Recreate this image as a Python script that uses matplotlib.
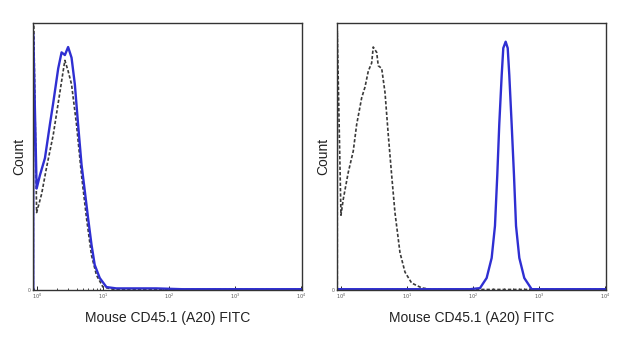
import matplotlib
matplotlib.use("Agg")
import matplotlib.pyplot as plt
import numpy as np
from matplotlib.ticker import FixedLocator, LogLocator, NullFormatter

plt.rcParams['font.family'] = ['Liberation Sans', 'DejaVu Sans']

# Left panel: isotype control (dashed) and stained sample (blue); x = log10 fluorescence, y = count (% of max)
left_iso_log = [-0.056, -0.056, -0.005, 0.071, 0.146, 0.246, 0.347, 0.397, 0.423, 0.472, 0.524, 0.599,
                0.675, 0.75, 0.826, 0.901, 1.0, 1.152, 1.5, 2.0, 3.0, 4.0]
left_iso_cnt = [0, 110, 29, 36, 46, 58, 74, 82, 86, 82, 77, 62, 43, 27, 13, 5.6, 1.1, 0.3, 0.3, 0.2, 0.2, 0.2]
left_stain_log = [-0.056, -0.056, -0.005, 0.045, 0.121, 0.196, 0.246, 0.322, 0.373, 0.423, 0.472, 0.524,
                  0.574, 0.623, 0.675, 0.725, 0.774, 0.826, 0.875, 0.951, 1.052, 1.203, 1.81, 2.2, 3.0, 4.0]
left_stain_cnt = [0, 96, 38, 43, 49.4, 62, 70, 83, 89, 88, 91, 87, 77, 62, 47, 37, 27, 17, 9.4, 4.5, 1.1,
                  0.6, 0.6, 0.3, 0.3, 0.3]

# Right panel
right_iso_log = [-0.056, -0.056, 0.0, 0.035, 0.11, 0.186, 0.238, 0.314, 0.364, 0.414, 0.465, 0.489, 0.541,
                 0.565, 0.617, 0.667, 0.717, 0.768, 0.818, 0.894, 0.97, 1.071, 1.223, 1.374, 2.0, 3.0, 4.0]
right_iso_cnt = [0, 97, 28, 34, 44, 52, 62, 72, 76, 82, 85, 91, 89, 84, 83, 74, 58, 43, 29, 14, 6.7, 2.6,
                 0.8, 0.2, 0.2, 0.2, 0.2]
right_stain_log = [-0.056, 1.955, 2.106, 2.207, 2.283, 2.333, 2.368, 2.398, 2.435, 2.459, 2.495, 2.526,
                   2.55, 2.586, 2.621, 2.652, 2.702, 2.777, 2.889, 4.0]
right_stain_cnt = [0.3, 0.3, 0.7, 4.5, 12, 24, 43, 62, 80.5, 90.6, 93, 90.6, 80.5, 62, 43, 24, 12, 4.5,
                   0.3, 0.3]

xlabel = "Mouse CD45.1 (A20) FITC"
ylabel = "Count"
tick_labels = [r"$10^0$", r"$10^1$", r"$10^2$", r"$10^3$", r"$10^4$"]
tick_vals = [1, 10, 100, 1000, 10000]

blue = "#2f2fd2"
dark = "#3a3a3a"

fig = plt.figure(figsize=(6.4, 3.58), dpi=100)
W, H = 640, 358
panels = [
    (33, (left_iso_log, left_iso_cnt), (left_stain_log, left_stain_cnt)),
    (337, (right_iso_log, right_iso_cnt), (right_stain_log, right_stain_cnt)),
]
for x0, iso, stain in panels:
    ax = fig.add_axes([x0 / W, 1 - 290 / H, 269 / W, 267 / H])
    xi = 10 ** np.array(iso[0])
    xs = 10 ** np.array(stain[0])
    ax.plot(xi, iso[1], color=dark, lw=1.2, ls=(0, (2, 1.2)))
    ax.plot(xs, stain[1], color=blue, lw=1.7)
    ax.set_xscale('log')
    ax.set_xlim(10 ** -0.06, 10 ** 4.015)
    ax.set_ylim(0, 100)
    ax.xaxis.set_major_locator(FixedLocator(tick_vals))
    ax.set_xticklabels(tick_labels, fontsize=3.5, color="#555555")
    ax.xaxis.set_minor_locator(LogLocator(base=10, subs=np.arange(2, 10)))
    ax.xaxis.set_minor_formatter(NullFormatter())
    ax.tick_params(axis='x', which='major', direction='in', length=3, width=0.6, pad=1.5)
    ax.tick_params(axis='x', which='minor', direction='in', length=1.8, width=0.5)
    ax.set_yticks([0])
    ax.set_yticklabels(["0"], fontsize=3.5, color="#555555")
    ax.tick_params(axis='y', direction='in', length=2, width=0.5, pad=1.5)
    for s in ax.spines.values():
        s.set_linewidth(1.0)
        s.set_color("#333333")
    ax.set_xlabel(xlabel, fontsize=10, color="#222222", va='center')
    ax.set_ylabel(ylabel, fontsize=10, color="#222222", va='center')
    ax.xaxis.set_label_coords(0.5, -0.105)
    ax.yaxis.set_label_coords(-0.05, 0.5)

fig.savefig("out.png", dpi=100)
